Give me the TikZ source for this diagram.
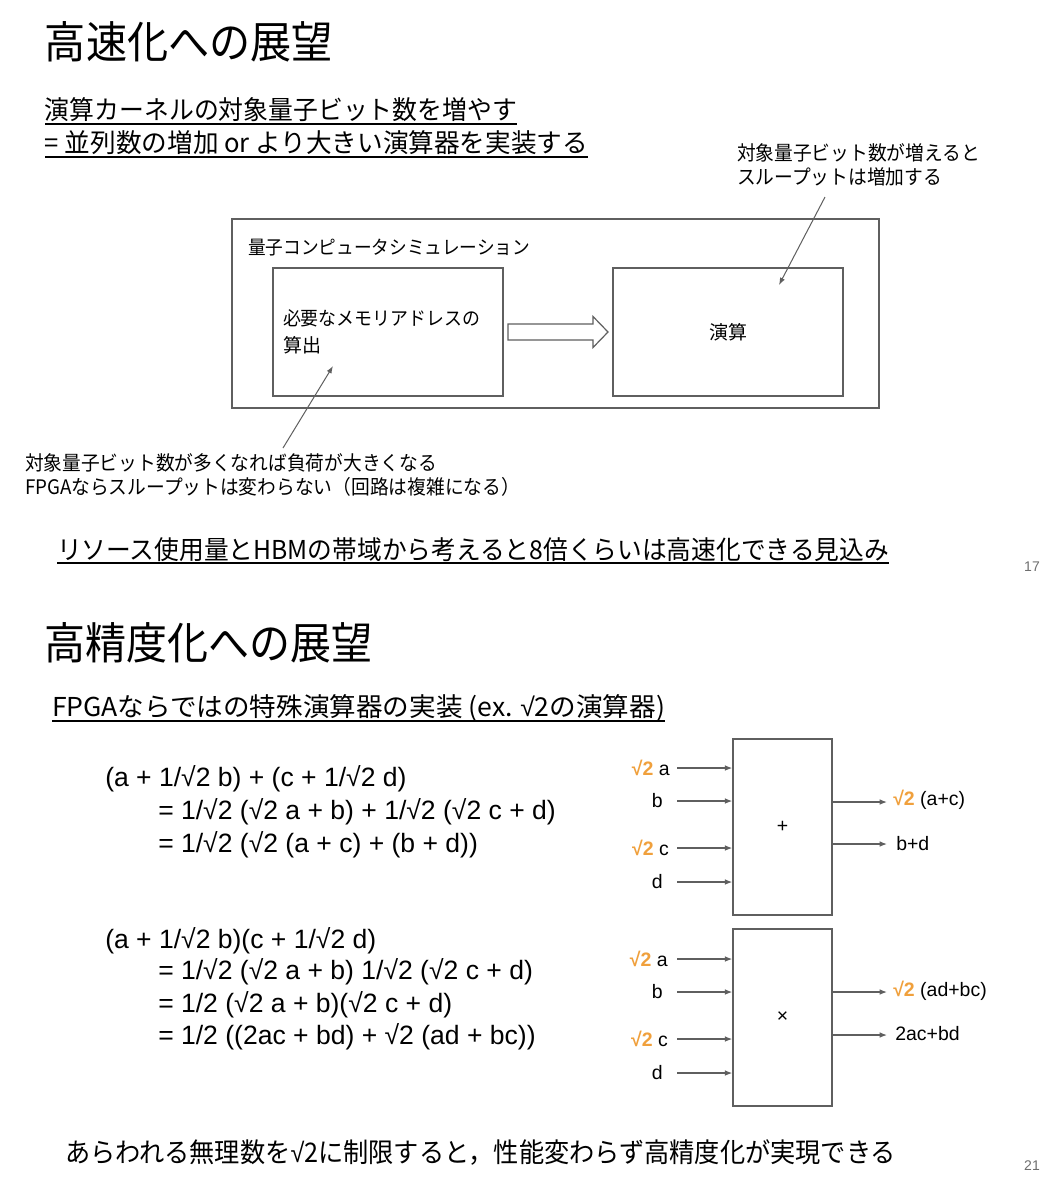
\documentclass[tikz,border=0pt]{standalone}
\usepackage{fontspec}
\usepackage{graphicx}
\setmainfont{Liberation Sans}
\newfontfamily\jp{Noto Sans CJK JP}
\newfontfamily\lat{Liberation Sans}
\usetikzlibrary{arrows.meta,calc}
\newdimen\pxu \pxu=0.75pt
\newcommand\fitw[2]{\resizebox{#1\pxu}{\height}{#2}}
\newcommand\rtwo{{\color{sqorange}\bfseries √2}}
\newcommand\sqt{{\lat √}}
\definecolor{lineg}{RGB}{95,95,95}
\definecolor{sqorange}{RGB}{240,160,60}
\definecolor{pgnum}{RGB}{110,110,110}
\begin{document}
\begin{tikzpicture}[x=0.75pt,y=-0.75pt,
 jt/.style={inner sep=0pt, outer sep=0pt, anchor=west},
 ttl/.style={jt, font=\jp\fontsize{33}{36}\selectfont},
 sub/.style={jt, font=\jp\fontsize{19.5}{22}\selectfont},
 ann/.style={jt, font=\jp\fontsize{15}{18}\selectfont},
 eqn/.style={inner sep=0pt, anchor=west, font=\fontsize{19.9}{22}\selectfont},
 lab/.style={inner sep=0pt, font=\fontsize{14.6}{17}\selectfont},
 gbox/.style={draw=lineg, line width=1.1pt, inner sep=0pt},
 uline/.style={line width=1.7pt},
 pin/.style={draw=lineg, line width=0.9pt, -{Latex[length=5.5pt,width=4.2pt]}},
 callout/.style={draw=lineg, line width=0.75pt, -{Latex[length=5.5pt,width=4pt]}},
 pg/.style={inner sep=0pt, font=\fontsize{10.5}{12}\selectfont, text=pgnum},
 blockarrow/.style={draw=lineg, line width=0.9pt, fill=white, line join=miter}
]
\useasboundingbox (0,0) rectangle (1062,1200);
\fill[white] (0,0) rectangle (1062,1200);

% ---------- upper slide ----------
\node[ttl] (t1) at (45,42) {\fitw{288}{高速化への展望}};
\node[sub] (s1) at (45,110) {\fitw{472}{演算カーネルの対象量子ビット数を増やす}};
\node[sub] (s2) at (45,143) {\fitw{543}{= 並列数の増加 or より大きい演算器を実装する}};
\draw[uline] (45,124) -- (517,124);
\draw[uline] (45,157) -- (588,157);

\node[ann] (a1) at (737,153) {\fitw{243}{対象量子ビット数が増えると}};
\node[ann] (a2) at (737,177) {\fitw{205}{スループットは増加する}};

\node[gbox, minimum width=485.25pt, minimum height=141.75pt] (sim) at (555.5,313.5) {};
\node[jt, font=\jp\fontsize{14.25}{16}\selectfont] (simlbl) at (248,248) {\fitw{282}{量子コンピュータシミュレーション}};
\node[gbox, minimum width=172.5pt, minimum height=96pt, align=left, text width=157.5pt,
      font=\jp\fontsize{14.25}{20.25}\selectfont] (addr) at (388,332)
      {\fitw{197}{必要なメモリアドレスの}\\\fitw{38}{算出}};
\node[gbox, minimum width=172.5pt, minimum height=96pt,
      font=\jp\fontsize{14.25}{16}\selectfont] (opbox) at (728,332) {\fitw{38}{演算}};

\coordinate (m) at ($(addr.east)!0.5!(opbox.west)$);
\draw[blockarrow] ($(m)+(-50,-8)$) -- ($(m)+(35,-8)$) -- ($(m)+(35,-15.5)$) -- ($(m)+(50,0)$)
   -- ($(m)+(35,15.5)$) -- ($(m)+(35,8)$) -- ($(m)+(-50,8)$) -- cycle;

\coordinate (n1s) at (825,197);
\coordinate (n1e) at (779,285);
\draw[callout] (n1s) -- (n1e);
\coordinate (n2s) at (283,448);
\coordinate (n2e) at (333,366);
\draw[callout] (n2s) -- (n2e);

\node[ann] (c1) at (25,463) {\fitw{412}{対象量子ビット数が多くなれば負荷が大きくなる}};
\node[ann] (c2) at (25,487) {\fitw{495}{FPGAならスループットは変わらない（回路は複雑になる）}};

\node[sub] (r1) at (57,550) {\fitw{832}{リソース使用量とHBMの帯域から考えると8倍くらいは高速化できる見込み}};
\draw[line width=2.2pt] (57,563) -- (889,563);
\node[pg] (p17) at (1032,567) {17};

% ---------- lower slide ----------
\node[ttl] (t2) at (45,643) {\fitw{328}{高精度化への展望}};
\node[sub] (s3) at (52,708) {\fitw{613}{FPGAならではの特殊演算器の実装 (ex. \sqt 2の演算器)}};
\draw[uline] (52,721) -- (665,721);

\node[eqn] (e1) at (105,779) {(a + 1/√2 b) + (c + 1/√2 d)};
\node[eqn] (e2) at (158,812) {= 1/√2 (√2 a + b) + 1/√2 (√2 c + d)};
\node[eqn] (e3) at (158,845) {= 1/√2 (√2 (a + c) + (b + d))};
\node[eqn] (e4) at (105,941) {(a + 1/√2 b)(c + 1/√2 d)};
\node[eqn] (e5) at (158,972) {= 1/√2 (√2 a + b) 1/√2 (√2 c + d)};
\node[eqn] (e6) at (158,1005) {= 1/2 (√2 a + b)(√2 c + d)};
\node[eqn] (e7) at (158,1037) {= 1/2 ((2ac + bd) + √2 (ad + bc))};

% plus unit
\node[gbox, minimum width=74.25pt, minimum height=132pt, font=\fontsize{14.6}{17}\selectfont] (P) at (782.5,827) {+};
\node[lab, anchor=east] (pa) at (670,768) {\rtwo\ a};
\node[lab, anchor=east] (pb) at (663,801) {b};
\node[lab, anchor=east] (pc) at (669,848) {\rtwo\ c};
\node[lab, anchor=east] (pd) at (663,882) {d};
\coordinate (pi1) at (677,768);
\coordinate (pi2) at (677,801);
\coordinate (pi3) at (677,848);
\coordinate (pi4) at (677,882);
\foreach \k in {1,2,3,4} \draw[pin] (pi\k) -- (pi\k -| P.west);
\coordinate (po1) at (887,802);
\coordinate (po2) at (887,844);
\draw[pin] (po1 -| P.east) -- (po1);
\draw[pin] (po2 -| P.east) -- (po2);
\node[lab, anchor=west] (pr1) at (893,800) {\rtwo\ (a+c)};
\node[lab, anchor=west] (pr2) at (896,844) {b+d};

% times unit
\node[gbox, minimum width=74.25pt, minimum height=132.75pt, font=\fontsize{14.6}{17}\selectfont] (T) at (782.5,1017.5) {×};
\node[lab, anchor=east] (ta) at (668,959) {\rtwo\ a};
\node[lab, anchor=east] (tb) at (663,992) {b};
\node[lab, anchor=east] (tc) at (668,1039) {\rtwo\ c};
\node[lab, anchor=east] (td) at (663,1073) {d};
\coordinate (ti1) at (677,959);
\coordinate (ti2) at (677,992);
\coordinate (ti3) at (677,1039);
\coordinate (ti4) at (677,1073);
\foreach \k in {1,2,3,4} \draw[pin] (ti\k) -- (ti\k -| T.west);
\coordinate (to1) at (887,992);
\coordinate (to2) at (887,1035);
\draw[pin] (to1 -| T.east) -- (to1);
\draw[pin] (to2 -| T.east) -- (to2);
\node[lab, anchor=west] (tr1) at (893,991) {\rtwo\ (ad+bc)};
\node[lab, anchor=west] (tr2) at (895,1034) {2ac+bd};

\node[jt, font=\jp\fontsize{20.25}{22}\selectfont] (fin) at (65,1153) {\fitw{831}{あらわれる無理数を\sqt 2に制限すると，性能変わらず高精度化が実現できる}};
\node[pg] (p21) at (1032,1166) {21};
\end{tikzpicture}
\end{document}
